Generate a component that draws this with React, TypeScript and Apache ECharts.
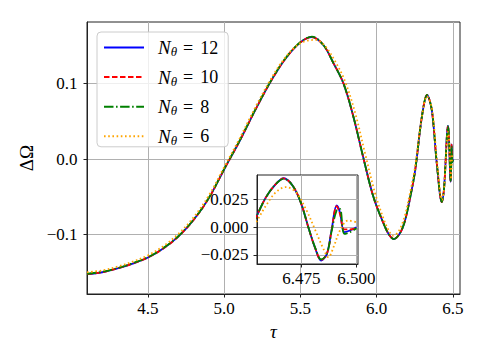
import React, { useEffect, useRef } from "react";
import * as echarts from "echarts";

// ---- data ----
const tauA = [4.10, 4.20, 4.30, 4.40, 4.50, 4.60, 4.70, 4.80, 4.90, 5.00, 5.10, 5.20, 5.30, 5.40, 5.50, 5.575, 5.65, 5.716, 5.782, 5.847, 5.913, 5.978, 6.044, 6.08, 6.112, 6.153, 6.186, 6.22, 6.252, 6.296, 6.33, 6.361, 6.394, 6.427, 6.44, 6.45, 6.455, 6.459, 6.4635, 6.467, 6.471, 6.4747, 6.4784, 6.4814, 6.484, 6.4866, 6.4888, 6.491, 6.4925, 6.4945, 6.497, 6.500];
const dOmega12 = [-0.1525, -0.150, -0.145, -0.1385, -0.1305, -0.1185, -0.1025, -0.0805, -0.0515, -0.0135, 0.0235, 0.0635, 0.101, 0.1325, 0.1545, 0.1615, 0.151, 0.127, 0.100, 0.056, 0.001, -0.050, -0.085, -0.100, -0.106, -0.098, -0.081, -0.050, -0.015, 0.056, 0.0848, 0.065, -0.006, -0.057, -0.042, -0.010, 0.011, 0.027, 0.039, 0.044, 0.0375, 0.0225, -0.0015, -0.0195, -0.030, -0.024, -0.0015, 0.0195, 0.0135, -0.0045, -0.003, 0.0];
const dOmega10 = [-0.1525, -0.150, -0.145, -0.1385, -0.1305, -0.1185, -0.1025, -0.0805, -0.0515, -0.0135, 0.0235, 0.0635, 0.101, 0.1325, 0.1545, 0.1615, 0.151, 0.127, 0.100, 0.056, 0.001, -0.050, -0.085, -0.100, -0.106, -0.098, -0.081, -0.050, -0.015, 0.056, 0.0848, 0.065, -0.006, -0.057, -0.042, -0.010, 0.011, 0.027, 0.039, 0.0438, 0.0375, 0.0225, -0.0015, -0.0195, -0.0295, -0.024, -0.002, 0.019, 0.012, -0.002, -0.002, -0.001];
const dOmega8 = [-0.152, -0.1495, -0.1445, -0.138, -0.130, -0.118, -0.102, -0.080, -0.051, -0.013, 0.024, 0.064, 0.1015, 0.133, 0.155, 0.162, 0.151, 0.127, 0.100, 0.056, 0.001, -0.050, -0.085, -0.100, -0.106, -0.098, -0.081, -0.050, -0.015, 0.056, 0.0848, 0.065, -0.006, -0.057, -0.042, -0.010, 0.011, 0.027, 0.039, 0.0435, 0.0375, 0.0225, -0.0015, -0.019, -0.029, -0.024, -0.003, 0.015, 0.0165, -0.006, -0.0045, -0.001];
const tauB = [4.10, 4.20, 4.30, 4.40, 4.50, 4.60, 4.70, 4.80, 4.90, 5.00, 5.10, 5.20, 5.30, 5.40, 5.50, 5.60, 5.66, 5.72, 5.79, 5.86, 5.925, 5.99, 6.05, 6.08, 6.105, 6.14, 6.18, 6.215, 6.25, 6.296, 6.33, 6.362, 6.395, 6.428, 6.44, 6.45, 6.455, 6.459, 6.4635, 6.468, 6.4725, 6.477, 6.4814, 6.485, 6.4873, 6.4896, 6.4925, 6.4962, 6.500];
const dOmega6 = [-0.150, -0.1475, -0.1425, -0.136, -0.1275, -0.1155, -0.099, -0.077, -0.048, -0.0105, 0.027, 0.067, 0.104, 0.1345, 0.1535, 0.1578, 0.150, 0.132, 0.104, 0.060, 0.006, -0.046, -0.082, -0.095, -0.1015, -0.097, -0.078, -0.048, -0.012, 0.056, 0.083, 0.067, -0.002, -0.054, -0.043, -0.012, 0.006, 0.0195, 0.0315, 0.036, 0.0315, 0.0165, -0.003, -0.0195, -0.027, -0.018, -0.003, 0.006, 0.0045];

const seriesNames = ["Nθ = 12", "Nθ = 10", "Nθ = 8", "Nθ = 6"];
const legendNumbers = ["12", "10", "8", "6"];
const mainXTicks = [4.5, 5.0, 5.5, 6.0, 6.5];
const mainYTicks = [-0.1, 0.0, 0.1];
const insetXTicks = [6.475, 6.5];
const insetYTicks = [-0.025, 0.0, 0.025];

const FONT = "Liberation Serif";

const pairs = (xs: number[], ys: number[]) => xs.map((x, i) => [x, ys[i]]);
const fmt = (v: number, d: number) => (v < 0 ? "\u2212" : "") + Math.abs(v).toFixed(d);

export default function App() {
  const ref = useRef<HTMLDivElement>(null);
  useEffect(() => {
    if (!ref.current) return;
    const chart = echarts.init(ref.current, undefined, { renderer: "svg" });

    const styles = [
      { color: "#0000ff", type: "solid" as any },
      { color: "#ff0000", type: [5.5, 2.5] },
      { color: "#008000", type: [9.5, 2.5, 1.6, 2.5] },
      { color: "#ffa500", type: [1.6, 2.6] },
    ];
    const datasets = [
      pairs(tauA, dOmega12),
      pairs(tauA, dOmega10),
      pairs(tauA, dOmega8),
      pairs(tauB, dOmega6),
    ];

    const axisLine = { show: true, onZero: false, lineStyle: { color: "#222", width: 1 } };
    const split = { show: true, lineStyle: { color: "#b0b0b0", width: 1 } };
    const label = { color: "#000", fontSize: 17, fontFamily: FONT };

    const mk = (d: number[][], i: number, inset: boolean) => ({
      name: seriesNames[i],
      type: "line",
      xAxisIndex: inset ? 1 : 0,
      yAxisIndex: inset ? 1 : 0,
      data: d,
      symbol: "none",
      smooth: 0.35,
      z: (inset ? 6 : 2) + i * 0.1,
      clip: true,
      lineStyle: { color: styles[i].color, width: 1.8, type: styles[i].type, cap: "butt" },
      itemStyle: { color: styles[i].color },
    });

    chart.setOption({
      animation: false,
      backgroundColor: "#fff",
      grid: [
        { left: 87, top: 22, width: 373, height: 272, show: true, borderColor: "#222", borderWidth: 1, backgroundColor: "transparent", z: 0 },
        { left: 257, top: 175, width: 101, height: 89, show: true, borderColor: "#222", borderWidth: 1, backgroundColor: "#fff", z: 3 },
      ],
      legend: {
        orient: "vertical",
        left: 97,
        top: 32,
        padding: [6, 10, 0, 6],
        itemWidth: 40,
        itemHeight: 14,
        itemGap: 9.6,
        itemStyle: { opacity: 0 },
        backgroundColor: "rgba(255,255,255,0.8)",
        borderColor: "#cccccc",
        borderWidth: 1,
        borderRadius: 4,
        data: seriesNames,
        formatter: (name: string) => {
          const i = seriesNames.indexOf(name);
          return `{i|N}{s|θ}{e|=}{t|${legendNumbers[i]}}`;
        },
        textStyle: {
          color: "#000",
          fontFamily: FONT,
          fontSize: 18,
          padding: [0, 0, 0, 9],
          rich: {
            i: { fontStyle: "italic", fontSize: 19, fontFamily: FONT, color: "#000" },
            s: { fontStyle: "italic", fontSize: 13, fontFamily: FONT, color: "#000", padding: [8, 0, 0, 0] },
            e: { fontSize: 18, fontFamily: FONT, color: "#000", padding: [0, 7, 0, 6] },
            t: { fontSize: 18, fontFamily: FONT, color: "#000" },
          },
        },
      },
      xAxis: [
        {
          type: "value", gridIndex: 0, min: 4.1, max: 6.546,
          axisLine,
          axisTick: { show: true, inside: false, length: 3.5, customValues: mainXTicks, lineStyle: { color: "#222" } },
          axisLabel: { ...label, margin: 6, customValues: mainXTicks, formatter: (v: number) => fmt(v, 1) },
          splitLine: split,
          name: "τ", nameLocation: "middle", nameGap: 28,
          nameTextStyle: { color: "#000", fontSize: 19, fontStyle: "italic", fontFamily: FONT },
        },
        {
          type: "value", gridIndex: 1, min: 6.4549, max: 6.5007, z: 4,
          axisLine,
          axisTick: { show: true, inside: false, length: 3.5, customValues: insetXTicks, lineStyle: { color: "#222" } },
          axisLabel: { ...label, margin: 6, customValues: insetXTicks, formatter: (v: number) => fmt(v, 3) },
          splitLine: split,
        },
      ],
      yAxis: [
        {
          type: "value", gridIndex: 0, min: -0.1788, max: 0.1815,
          axisLine,
          axisTick: { show: true, inside: false, length: 3.5, customValues: mainYTicks, lineStyle: { color: "#222" } },
          axisLabel: { ...label, margin: 9.5, customValues: mainYTicks, formatter: (v: number) => fmt(v, 1) },
          splitLine: split,
          name: "ΔΩ", nameLocation: "middle", nameGap: 41, nameRotate: 90,
          nameTextStyle: { color: "#000", fontSize: 19, fontFamily: FONT },
        },
        {
          type: "value", gridIndex: 1, min: -0.0331, max: 0.0469, z: 4,
          axisLine,
          axisTick: { show: true, inside: false, length: 3.5, customValues: insetYTicks, lineStyle: { color: "#222" } },
          axisLabel: { ...label, margin: 8.5, customValues: insetYTicks, formatter: (v: number) => fmt(v, 3) },
          splitLine: split,
        },
      ],
      series: [
        ...datasets.map((d, i) => mk(d, i, false)),
        ...datasets.map((d, i) => mk(d, i, true)),
      ],
    });
    return () => chart.dispose();
  }, []);
  return <div ref={ref} style={{ position: "fixed", left: 0, top: 0, width: 484, height: 363 }} />;
}
